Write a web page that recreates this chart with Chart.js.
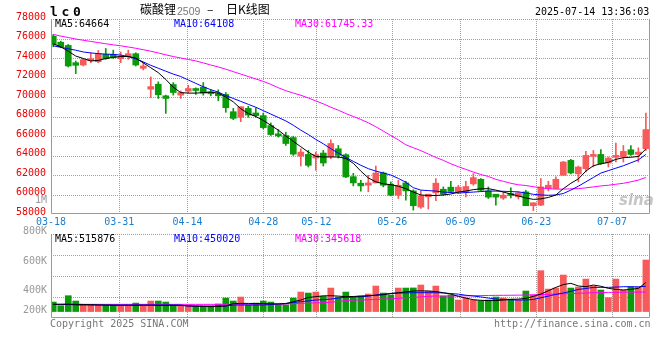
<!DOCTYPE html>
<html>
<head>
<meta charset="utf-8">
<title>碳酸锂2509 日K线图</title>
<script src="https://cdn.jsdelivr.net/npm/chart.js@4.4.1/dist/chart.umd.min.js"></script>
<style>
  html, body { margin: 0; padding: 0; background: #fff; }
  #wrap { position: relative; width: 660px; height: 360px; overflow: hidden;
          font-family: "DejaVu Sans Mono", monospace; font-size: 10px; }
  #wrap canvas { position: absolute; left: 0; top: 0; }
  .txt { position: absolute; white-space: nowrap; line-height: 10px; }
  .cjk { font-family: "Noto Sans CJK SC", sans-serif; font-size: 12px; line-height: 12px; }
  .vlab { color: #999; text-align: right; width: 40px; left: 7px; }
</style>
</head>
<body>
<div id="wrap">
  <canvas id="klineCanvas" width="660" height="360"></canvas>
  <canvas id="volCanvas" width="660" height="360"></canvas>

  <!-- header -->
  <div class="txt" style="left:50px;top:5px;font-weight:bold;font-size:13px;line-height:13px;letter-spacing:3.7px">lc0</div>
  <div class="txt cjk" style="left:140px;top:3px">碳酸锂</div>
  <div class="txt" style="left:177px;top:5px;font-family:'Liberation Sans',sans-serif;font-size:10.5px;line-height:12px;color:#777">2509</div>
  <div class="txt cjk" style="left:207px;top:3px">–</div>
  <div class="txt cjk" style="left:226px;top:3px">日K线图</div>
  <div class="txt" style="left:535px;top:7px">2025-07-14 13:36:03</div>

  <!-- price legend -->
  <div class="txt" style="left:55px;top:19px;color:#000">MA5:64664</div>
  <div class="txt" style="left:174px;top:19px;color:#0000ff">MA10:64108</div>
  <div class="txt" style="left:295px;top:19px;color:#ff00ff">MA30:61745.33</div>

  <!-- sina watermark -->
  <div class="txt" style="left:619px;top:193px;font-family:'DejaVu Sans',sans-serif;font-style:italic;font-weight:bold;font-size:15px;line-height:14px;color:rgba(150,150,150,0.55)">sina</div>

  <!-- volume axis labels -->
  <div class="txt vlab" style="top:195px">1M</div>
  <div class="txt vlab" style="top:226px">800K</div>
  <div class="txt vlab" style="top:256px">600K</div>
  <div class="txt vlab" style="top:285px">400K</div>
  <div class="txt vlab" style="top:305px">200K</div>

  <!-- volume legend -->
  <div class="txt" style="left:55px;top:234px;color:#000">MA5:515876</div>
  <div class="txt" style="left:174px;top:234px;color:#0000ff">MA10:450020</div>
  <div class="txt" style="left:295px;top:234px;color:#ff00ff">MA30:345618</div>

  <!-- footer -->
  <div class="txt" style="left:50px;top:319px;color:#777">Copyright 2025 SINA.COM</div>
  <div class="txt" style="left:494px;top:319px;color:#777">http://finance.sina.com.cn</div>
</div>

<script>
// Lithium carbonate 2509 daily K-line, 2025-03-18 .. 2025-07-14
// Values (prices in yuan/t, volume in lots).

// --- Data ---
const days = [
  '03-18','03-19','03-20','03-21','03-24','03-25','03-26','03-27','03-28','03-31',
  '04-01','04-02','04-03','04-07','04-08','04-09','04-10','04-11','04-14','04-15',
  '04-16','04-17','04-18','04-21','04-22','04-23','04-24','04-25','04-28','04-29',
  '04-30','05-06','05-07','05-08','05-09','05-12','05-13','05-14','05-15','05-16',
  '05-19','05-20','05-21','05-22','05-23','05-26','05-27','05-28','05-29','05-30',
  '06-03','06-04','06-05','06-06','06-09','06-10','06-11','06-12','06-13','06-16',
  '06-17','06-18','06-19','06-20','06-23','06-24','06-25','06-26','06-27','06-30',
  '07-01','07-02','07-03','07-04','07-07','07-08','07-09','07-10','07-11','07-14'
];

// dates that get a label and a vertical grid line
const tickDayIndex = [0, 9, 18, 28, 35, 45, 54, 64, 74];

const opens = [
  76240, 75620, 75290, 73520, 73280, 73720, 73620, 74370, 74370, 73930,
  74130, 74440, 72940, 70800, 71310, 70120, 71280, 70190, 70600, 70870,
  71010, 70530, 70360, 70260, 68490, 67920, 68830, 68360, 68090, 67070,
  66220, 66050, 65840, 63940, 64110, 63740, 64250, 63870, 64690, 64080,
  61830, 61160, 60950, 61190, 62210, 61050, 59930, 61190, 60370, 58710,
  59760, 60170, 60540, 60750, 60270, 60270, 61090, 61560, 60370, 60030,
  59630, 60100, 59760, 60270, 58850, 58910, 60610, 60610, 61970, 63500,
  62110, 62650, 63910, 64110, 63230, 63810, 63840, 64590, 64110, 64690
];
const highs = [
  76410, 75730, 75390, 73690, 73960, 74540, 74780, 74980, 74810, 74610,
  74810, 74540, 73520, 72060, 71550, 70190, 71480, 70630, 71210, 70940,
  71480, 70740, 70740, 70460, 68830, 69000, 69040, 68870, 68360, 67340,
  66660, 66390, 65980, 64690, 64520, 64350, 64520, 65610, 65030, 64180,
  62170, 61460, 61970, 62920, 62310, 61290, 61460, 61360, 60480, 60370,
  60030, 61630, 60780, 61360, 60950, 61360, 62140, 61630, 60780, 60030,
  60270, 60680, 60270, 60440, 59150, 61630, 61360, 61800, 63400, 63600,
  62920, 64420, 64520, 64620, 63840, 65270, 65030, 65030, 64790, 68360
];
const lows = [
  75150, 75050, 73080, 72400, 73180, 73520, 73520, 73860, 73930, 73520,
  73860, 73180, 72770, 69950, 69850, 68320, 70190, 69850, 70400, 70260,
  70190, 70120, 69610, 68430, 67680, 67470, 67920, 67920, 66730, 66050,
  65880, 65030, 64010, 62920, 62820, 62480, 62920, 63670, 63740, 61730,
  60880, 60340, 60270, 61190, 60780, 59860, 59590, 59420, 58400, 58570,
  58510, 59360, 59930, 60200, 60100, 59760, 60950, 60370, 59590, 58910,
  59490, 59660, 59530, 58850, 58340, 58850, 60370, 60610, 61970, 62110,
  61290, 62310, 62820, 63090, 62820, 63330, 63330, 64010, 63330, 64520
];
const closes = [
  75390, 75150, 73180, 73250, 73830, 73930, 74440, 73930, 74030, 74200,
  74440, 73280, 73180, 71070, 70230, 69850, 70460, 70460, 70870, 70670,
  70400, 70330, 70120, 68900, 67810, 69000, 68150, 68090, 66860, 66150,
  66010, 65230, 64140, 64350, 62990, 64080, 63230, 65230, 64010, 61800,
  61190, 60880, 61190, 62210, 60950, 59930, 60950, 60370, 58850, 59860,
  60030, 61160, 60030, 60310, 60750, 60820, 61730, 60440, 59730, 59730,
  59930, 59900, 60170, 58850, 59150, 60780, 60950, 61560, 63330, 62210,
  62820, 64010, 64110, 63160, 63740, 64010, 64420, 64110, 64350, 66660
];

const ma5 = [
  75450, 75150, 74700, 74200, 73950, 73700, 73750, 73950, 74080, 74150,
  74150, 74000, 73500, 73000, 72500, 71800, 71000, 70450, 70400, 70400,
  70450, 70500, 70400, 70000, 69500, 68800, 68300, 68000, 67600, 67100,
  66600, 66000, 65450, 64900, 64350, 63900, 63850, 63850, 63850, 63700,
  63200, 62400, 61700, 61300, 61100, 61000, 60850, 60600, 60250, 59950,
  59900, 59900, 59950, 60050, 60250, 60350, 60500, 60580, 60600, 60450,
  60250, 60050, 59850, 59650, 59500, 59550, 59700, 59950, 60600, 61150,
  61600, 62400, 62950, 63150, 63300, 63600, 63780, 63820, 63900, 64664
];
const ma10 = [
  75250, 75100, 74950, 74800, 74620, 74520, 74450, 74400, 74370, 74300,
  74150, 73920, 73600, 73250, 72950, 72650, 72350, 72100, 71750, 71400,
  71050, 70750, 70500, 70150, 69850, 69550, 69250, 68950, 68600, 68250,
  67900, 67550, 67100, 66600, 66150, 65650, 65200, 64700, 64250, 63800,
  63400, 63000, 62650, 62400, 62200, 62000, 61650, 61250, 60700, 60450,
  60400, 60350, 60250, 60200, 60150, 60200, 60250, 60300, 60350, 60350,
  60330, 60300, 60270, 60150, 60020, 59950, 59920, 59950, 60100, 60450,
  60850, 61300, 61750, 62200, 62450, 62700, 62950, 63250, 63550, 64108
];
const ma30 = [
  76420, 76250, 76100, 75950, 75820, 75700, 75580, 75460, 75350, 75250,
  75130, 75000, 74850, 74700, 74520, 74330, 74150, 74000, 73850, 73700,
  73500, 73280, 73080, 72850, 72600, 72350, 72100, 71850, 71600, 71300,
  70950, 70650, 70400, 70180, 69900, 69600, 69300, 68950, 68650, 68300,
  68000, 67700, 67350, 66950, 66500, 66050, 65600, 65100, 64800, 64500,
  64150, 63800, 63500, 63150, 62850, 62580, 62300, 62050, 61850, 61550,
  61350, 61150, 61000, 60920, 60800, 60680, 60600, 60550, 60550, 60580,
  60600, 60680, 60780, 60880, 60950, 61050, 61150, 61300, 61480, 61745
];

const volumes = [
  169000, 104000, 282000, 187000, 116000, 118000, 114000, 116000, 112000, 118000,
  116000, 151000, 114000, 187000, 187000, 169000, 116000, 114000, 116000,  98000,
   98000,  96000, 134000, 240000, 187000, 258000, 116000, 151000, 187000, 169000,
  116000, 118000, 240000, 347000, 329000, 347000, 270000, 418000, 258000, 347000,
  258000, 276000, 312000, 454000, 329000, 294000, 418000, 418000, 420000, 472000,
  365000, 454000, 276000, 294000, 205000, 240000, 205000, 193000, 205000, 258000,
  240000, 222000, 205000, 365000, 294000, 727000, 400000, 418000, 650000, 418000,
  436000, 578000, 454000, 383000, 246000, 578000, 383000, 436000, 436000, 917000
];
const volMa5 = [
  128000, 128000, 130000, 128000, 126000, 122000, 118000, 115000, 112000, 110000,
  110000, 112000, 112000, 112000, 110000, 110000, 110000, 108000, 100000,  95000,
   90000,  88000,  90000, 100000, 140000, 145000, 145000, 142000, 140000, 138000,
  134000, 140000, 175000, 205000, 250000, 265000, 280000, 281000, 275000, 264000,
  268000, 275000, 282000, 290000, 300000, 320000, 335000, 350000, 365000, 368000,
  365000, 355000, 335000, 310000, 270000, 240000, 210000, 200000, 195000, 195000,
  205000, 216000, 222000, 234000, 270000, 311000, 370000, 430000, 480000, 502000,
  455000, 442000, 472000, 450000, 412000, 395000, 383000, 395000, 412000, 515876
];
const volMa10 = [
  128000, 128000, 128000, 116000, 116000, 116000, 116000, 116000, 116000, 116000,
  116000, 116000, 116000, 116000, 116000, 116000, 116000, 116000,  98000,  98000,
   98000,  98000,  98000,  98000, 116000, 116000, 116000, 116000, 116000, 125000,
  135000, 145000, 160000, 175000, 190000, 205000, 212000, 222000, 240000, 255000,
  260000, 264000, 275000, 294000, 305000, 323000, 328000, 332000, 335000, 335000,
  335000, 335000, 330000, 320000, 310000, 290000, 276000, 260000, 240000, 222000,
  215000, 208000, 205000, 205000, 215000, 245000, 275000, 305000, 330000, 360000,
  394000, 410000, 430000, 430000, 430000, 435000, 442000, 442000, 440000, 450020
];
const volMa30 = [
  128000, 128000, 128000, 128000, 128000, 128000, 128000, 128000, 128000, 128000,
  128000, 128000, 128000, 128000, 128000, 128000, 128000, 128000, 128000, 128000,
  128000, 128000, 128000, 128000, 128000, 130000, 130000, 130000, 130000, 130000,
  130000, 135000, 140000, 145000, 150000, 155000, 157000, 165000, 180000, 195000,
  205000, 205000, 210000, 215000, 222000, 225000, 235000, 245000, 252000, 262000,
  270000, 276000, 276000, 276000, 278000, 280000, 282000, 284000, 286000, 288000,
  289000, 290000, 292000, 294000, 298000, 302000, 306000, 311000, 315000, 320000,
  325000, 330000, 335000, 338000, 341000, 343000, 344000, 345000, 345000, 345618
];

// price axis tick labels
const priceTicks = [58000, 60000, 62000, 64000, 66000, 68000, 70000, 72000, 74000, 76000, 78000];

// --- Style ---
const UP = '#f65a5a';
const DOWN = '#0a9a0a';
const GRID = '#a0a0a0';
const FRAME = '#999999';
const MONO = 'DejaVu Sans Mono';

// candle slots: a little of the first slot is hidden behind the left frame
const X_MIN = -0.3;
const X_MAX = 79.55;
// Sina spreads the date grid over (n - 1) steps of the full width
const gridValue = (i) => X_MIN + (X_MAX - X_MIN) * i / (days.length - 1);

const candleColors = closes.map((c, i) => (c >= opens[i] ? UP : DOWN));
const xy = (arr) => arr.map((v, i) => ({ x: i, y: v }));

// dotted grid at the scales' tick pixels, then a solid frame on
// left, right and bottom (the top edge stays a dotted grid line)
function dottedGrid(chart) {
  const { ctx, chartArea: a, scales } = chart;
  const top = Math.round(a.top), bottom = Math.round(a.bottom);
  const left = Math.round(a.left), right = Math.round(a.right);
  ctx.save();
  ctx.fillStyle = GRID;
  scales.x.ticks.forEach(t => {
    const px = Math.round(scales.x.getPixelForValue(t.value));
    if (px <= left + 1 || px >= right - 1) return;
    for (let y = top; y < bottom; y += 2) ctx.fillRect(px, y, 1, 1);
  });
  scales.y.ticks.forEach(t => {
    const py = Math.round(scales.y.getPixelForValue(t.value));
    if (py >= bottom - 1) return;
    for (let x = left; x < right; x += 2) ctx.fillRect(x, py, 1, 1);
  });
  ctx.restore();
}

const framePlugin = {
  id: 'sinaFrame',
  beforeDatasetsDraw(chart) {
    dottedGrid(chart);
  },
  afterDatasetsDraw(chart) {
    const { ctx, chartArea: a } = chart;
    const l = Math.round(a.left) + 0.5;
    const r = Math.round(a.right) - 0.5;
    const b = Math.round(a.bottom) - 0.5;
    ctx.save();
    ctx.strokeStyle = FRAME;
    ctx.lineWidth = 1;
    ctx.beginPath();
    ctx.moveTo(l, Math.round(a.top));
    ctx.lineTo(l, b);
    ctx.lineTo(r, b);
    ctx.lineTo(r, Math.round(a.top));
    ctx.stroke();
    ctx.restore();
  }
};

function lineSet(label, data, color) {
  return {
    type: 'line', label, data: xy(data),
    borderColor: color, borderWidth: 1, pointRadius: 0,
    tension: 0, order: 0
  };
}

function dateAxis(showLabels, height) {
  return {
    type: 'linear', min: X_MIN, max: X_MAX,
    offset: false,
    afterBuildTicks: (scale) => {
      scale.ticks = tickDayIndex.map(i => ({ value: gridValue(i) }));
    },
    afterFit: (scale) => { scale.height = height; },
    ticks: {
      display: showLabels, autoSkip: false, maxRotation: 0, padding: 2,
      color: '#1a7fd0', font: { family: MONO, size: 10 },
      callback: (v, idx) => days[tickDayIndex[idx]]
    },
    grid: { display: false, drawTicks: false, offset: false },
    border: { display: false }
  };
}

// --- K-line panel ---
new Chart(document.getElementById('klineCanvas'), {
  type: 'bar',
  data: {
    datasets: [
      lineSet('MA5', ma5, '#000000'),
      lineSet('MA10', ma10, '#0000ff'),
      lineSet('MA30', ma30, '#ff00ff'),
      {
        label: 'body',
        data: opens.map((o, i) => ({ x: i, y: [o, closes[i]] })),
        backgroundColor: candleColors,
        barThickness: 6, minBarLength: 1, grouped: false, order: 1
      },
      {
        label: 'wick',
        data: lows.map((l, i) => ({ x: i, y: [l, highs[i]] })),
        backgroundColor: candleColors,
        barThickness: 1, grouped: false, order: 2
      }
    ]
  },
  options: {
    responsive: false,
    animation: false,
    layout: { padding: { left: 0, top: 19, right: 10, bottom: 132 } },
    plugins: { legend: { display: false }, tooltip: { enabled: false } },
    scales: {
      x: dateAxis(true, 14),
      y: {
        min: 58000, max: 78000,
        afterBuildTicks: (scale) => {
          scale.ticks = priceTicks.map(v => ({ value: v }));
        },
        afterFit: (scale) => { scale.width = 51; },
        ticks: {
          color: '#ee0000', padding: 5, labelOffset: -2,
          font: { family: MONO, size: 10 },
          callback: (v) => String(v)
        },
        grid: { display: false, drawTicks: false },
        border: { display: false }
      }
    }
  },
  plugins: [framePlugin]
});

// --- Volume panel ---
const VOL_MIN = -115000;
const VOL_MAX = 1380000;

new Chart(document.getElementById('volCanvas'), {
  type: 'bar',
  data: {
    datasets: [
      lineSet('VMA5', volMa5, '#000000'),
      lineSet('VMA10', volMa10, '#0000ff'),
      lineSet('VMA30', volMa30, '#ff00ff'),
      {
        label: 'volume',
        data: xy(volumes),
        backgroundColor: candleColors,
        barThickness: 6, grouped: false, order: 1
      }
    ]
  },
  options: {
    responsive: false,
    animation: false,
    layout: { padding: { left: 0, top: 234, right: 10, bottom: 42 } },
    plugins: { legend: { display: false }, tooltip: { enabled: false } },
    scales: {
      x: dateAxis(false, 0),
      y: {
        min: VOL_MIN, max: VOL_MAX,
        // four equal bands, like the reference
        afterBuildTicks: (scale) => {
          const step = (VOL_MAX - VOL_MIN) / 4;
          scale.ticks = [0, 1, 2, 3].map(k => ({ value: VOL_MAX - k * step }));
        },
        afterFit: (scale) => { scale.width = 51; },
        ticks: { display: false },
        grid: { display: false, drawTicks: false },
        border: { display: false }
      }
    }
  },
  plugins: [framePlugin]
});
</script>
</body>
</html>
